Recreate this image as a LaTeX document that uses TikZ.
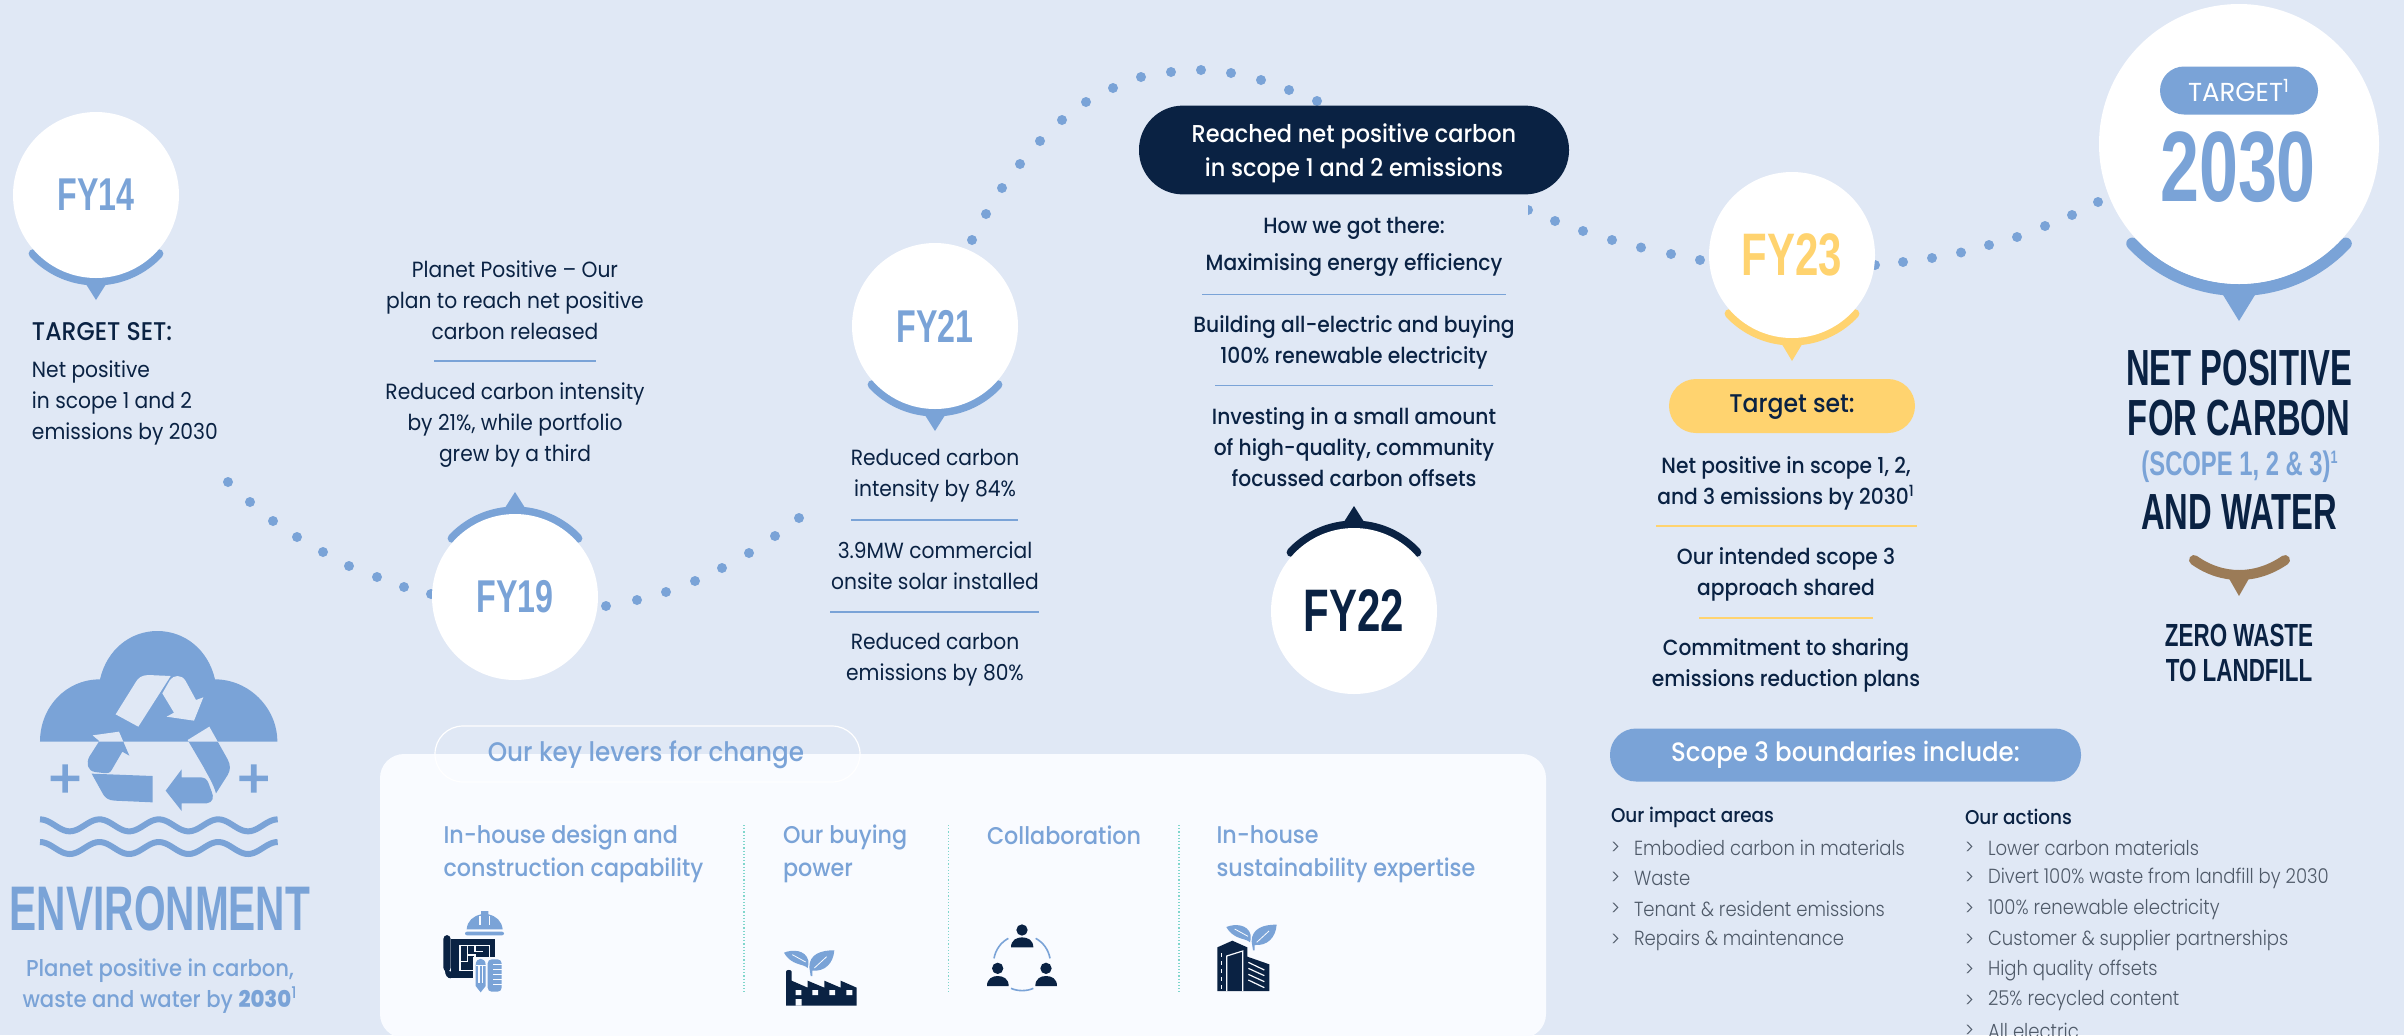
\documentclass[tikz,border=0pt]{standalone}
\usepackage{fontspec}
\setmainfont{Poppins}
\newfontfamily\bodyf[FakeStretch=.92]{Poppins}
\newfontfamily\medf[FakeStretch=.92]{Poppins Medium}
\newfontfamily\lightf[FakeStretch=.885]{Poppins Light}
\newfontfamily\condf[FakeStretch=.7]{Liberation Sans Bold}
\newfontfamily\condn[FakeStretch=.645]{Liberation Sans Bold}
\definecolor{bgc}{HTML}{E0E8F5}
\definecolor{bluec}{HTML}{7AA3D7}
\definecolor{darkc}{HTML}{0A2243}
\definecolor{yellowc}{HTML}{FFD36F}
\definecolor{brownc}{HTML}{9B7B57}
\definecolor{panelc}{HTML}{F9FBFF}
\definecolor{grayc}{HTML}{4F5A69}
\definecolor{tealc}{HTML}{7FD6CC}
\pgfdeclarelayer{base}
\pgfdeclarelayer{back}
\pgfsetlayers{base,back,main}
\newcommand\ringtip[8]{% cx cy R dir colour width tipdist halfwidth
  \draw[draw=#5,line width=#6,line cap=round] plot[domain=43:137,samples=40] ({#1+#3*cos(\x)},{#2+#4*#3*sin(\x)});
  \fill[#5] ({#1-#8},{#2+#4*#3}) -- ({#1},{#2+#4*#7}) -- ({#1+#8},{#2+#4*#3}) -- cycle;}
\newcommand\dotchain[5]{%
  \draw[dotline] foreach \px/\py [remember=\px as \qx (initially #1), remember=\py as \qy (initially #2)] in {#3} { (\qx,\qy) -- (\px,\py) };
  \draw[dotline] (#4) -- (#5);}
\newcommand\leafpair{%
  \fill[bluec] (27,38) .. controls (50,28) and (92,28) .. (100,62) .. controls (101,70) and (100,78) .. (98,84) .. controls (85,70) and (50,78) .. (27,38) -- cycle;
  \fill[bluec] (178,31) .. controls (140,30) and (102,42) .. (103,82) -- (107,108) -- (112,108) -- (112,92) .. controls (150,95) and (175,70) .. (178,31) -- cycle;
  \draw[panelc,line width=.4pt] (52,44) -- (92,66) (155,50) -- (118,84);}
\newcommand\recycle{%
  (347,343) -- (405,250) .. controls (415,232) and (425,226) .. (445,225) -- (512,228) -- (415,380) -- cycle
  (487,280) -- (510,240) .. controls (520,225) and (545,222) .. (557,243) -- (588,300) -- (610,292) -- (582,362) -- (500,350) -- (522,338) -- cycle
  (563,420) -- (628,380) -- (683,478) .. controls (692,495) and (692,510) .. (683,525) -- (648,580) .. controls (640,550) and (620,520) .. (610,500) -- cycle
  (545,508) -- (497,572) -- (545,633) -- (545,610) -- (620,610) .. controls (640,608) and (642,590) .. (635,575) -- (625,548) .. controls (620,536) and (612,532) .. (600,532) -- (545,532) -- cycle
  (275,521) -- (305,575) .. controls (315,595) and (325,601) .. (345,602) -- (458,607) -- (458,528) -- cycle
  (278,406) -- (357,395) -- (388,467) -- (367,455) -- (335,510) .. controls (330,520) and (322,520) .. (310,519) -- (285,516) .. controls (262,512) and (258,490) .. (268,470) -- (298,423) -- cycle}
\tikzset{
  x=.5pt,y=-.5pt,
  every node/.style={inner sep=0pt,outer sep=0pt},
  dotline/.style={draw=bluec,line width=5pt,line cap=round,dash pattern=on 0pt off 400pt},
  bubble/.style={circle,fill=white,minimum size=83pt},
  bigbubble/.style={circle,fill=white,minimum size=140pt},
  fyS/.style={text=bluec,font=\condf\fontsize{23}{26}\selectfont},
  fyL/.style={font=\condf\fontsize{30}{33}\selectfont},
  body/.style={align=center,text=darkc,font=\bodyf\fontsize{11}{15.4}\selectfont},
  medbody/.style={align=center,text=darkc,font=\medf\fontsize{11}{15.4}\selectfont},
  heading/.style={align=center,text=darkc,font=\condn\fontsize{25.4}{30}\selectfont},
  leverhead/.style={anchor=west,align=left,text=bluec,font=\medf\fontsize{12.1}{16.6}\selectfont},
  itemt/.style={anchor=west,text=grayc,font=\lightf\fontsize{10.2}{12}\selectfont},
  rulel/.style={line width=.6pt},
  divider/.style={draw=tealc,line width=.6pt,dash pattern=on .6pt off 1pt},
  iconw/.style={draw=panelc,line width=.6pt}
}
\begin{document}
\begin{tikzpicture}
\useasboundingbox (0,0) rectangle (2404,1035);
\begin{pgfonlayer}{base}
\fill[bgc] (0,0) rectangle (2404,1035);
\fill[panelc,rounded corners=12pt] (380,754) rectangle (1546,1038);
\end{pgfonlayer}

% rings behind the circles
\begin{pgfonlayer}{back}
\ringtip{96}{195}{86}{1}{bluec}{4.5pt}{105}{12}
\ringtip{515}{597}{86}{-1}{bluec}{4.5pt}{105}{12}
\ringtip{935}{326}{86}{1}{bluec}{4.5pt}{105}{12}
\ringtip{1354}{611}{86}{-1}{darkc}{4.5pt}{105}{12}
\ringtip{1792}{255}{86}{1}{yellowc}{4.5pt}{106}{12}
\ringtip{2239}{144}{146}{1}{bluec}{6pt}{177}{19}
\end{pgfonlayer}

% year circles
\node[bubble,fyS] (FY14) at (96,195) {FY14\hspace{2pt}};
\node[bubble,fyS] (FY19) at (515,597) {FY19\hspace{1pt}};
\node[bubble,fyS] (FY21) at (935,326) {FY21\hspace{3pt}};
\node[bubble,fyL,text=darkc] (FY22) at (1354,611) {FY22};
\node[bubble,fyL,text=yellowc] (FY23) at (1792,255) {FY23\hspace{1pt}};
\node[bigbubble] (T30) at (2239,144) {};
\node[fill=bluec,rounded corners=12pt,minimum width=79pt,minimum height=24pt,text=white,font=\rmfamily\fontsize{13}{14}\selectfont] (tpill) at (2239,90.5) {TARGET\textsuperscript{1}};
\node[text=bluec,font=\condf\fontsize{50}{54}\selectfont] (y30) at (2238,167) {2030};

% main pill
\node[fill=darkc,rounded corners=22pt,minimum width=215pt,minimum height=44.4pt] (pill22) at (1354,150) {};
\node[align=center,text=white,font=\medf\fontsize{12.2}{17.2}\selectfont] (pill22t) at (1354,153) {Reached net positive carbon\\in scope 1 and 2 emissions};

% dots
\begin{pgfonlayer}{back}
\dotchain{228}{482}{250/502,273/521,297/537,323/552,349/566,377/577,404/587,431/594}{431,594}{FY19}
\dotchain{799}{518}{775/536,749/553,722/568,695/581,666/592,637/600,606/606}{606,606}{FY19}
\dotchain{1317}{101}{1289/90,1261/80,1231/73,1201/70,1171/72,1141/77,1113/88,1086/102,1062/120,1040/141,1020/164,1002/188,986/214,972/240}{972,240}{FY21}
\dotchain{1528}{210}{1555/221,1583/231,1612/240,1641/247.5,1671/254,1700/260}{1700,260}{FY23}
\dotchain{2098}{202}{2072/215,2045/226,2017/237,1989/245,1961/252.5,1932/258,1903/262,1875/265}{1875,265}{FY23}
\fill[bgc] (1519,202) rectangle (1528,218);
\end{pgfonlayer}

% FY14 text
\node[anchor=west,text=darkc,font=\medf\fontsize{12.8}{14}\selectfont] (t14a) at (32,332) {TARGET SET:};
\node[body,anchor=west,align=left] (t14b) at (32,403) {Net positive\\in scope 1 and 2\\emissions by 2030};
% FY19 text
\node[body] (t19a) at (515,300) {Planet Positive – Our\\plan to reach net positive\\carbon released};
\draw[rulel,draw=bluec] (434,361) -- (596,361);
\node[body] (t19b) at (515,425) {Reduced carbon intensity\\by 21\%, while portfolio\\grew by a third};
% FY21 text
\node[body] (t21a) at (935,476) {Reduced carbon\\intensity by 84\%};
\draw[rulel,draw=bluec] (851,520) -- (1018,520);
\node[body] (t21b) at (935,566) {3.9MW commercial\\onsite solar installed};
\draw[rulel,draw=bluec] (830,612) -- (1039,612);
\node[body] (t21c) at (935,660) {Reduced carbon\\emissions by 80\%};
% FY22 text
\node[medbody] (t22a) at (1354,228) {How we got there:};
\node[medbody] (t22b) at (1354,265) {Maximising energy efficiency};
\draw[rulel,draw=bluec] (1202,294.6) -- (1506,294.6);
\node[medbody] (t22c) at (1354,342) {Building all-electric and buying\\100\% renewable electricity};
\draw[rulel,draw=bluec] (1215,385.6) -- (1493,385.6);
\node[medbody] (t22d) at (1354,447) {Investing in a small amount\\of high-quality, community\\focussed carbon offsets};
% FY23 text
\node[fill=yellowc,rounded corners=13.5pt,minimum width=123pt,minimum height=27pt] (p23) at (1792,406) {};
\node[text=darkc,font=\medf\fontsize{12.8}{14}\selectfont] (p23t) at (1792,407) {Target set:};
\node[medbody] (t23a) at (1786,483) {Net positive in scope 1, 2,\\and 3 emissions by 2030\textsuperscript{1}};
\draw[rulel,draw=yellowc] (1656,526) -- (1917,526);
\node[medbody] (t23b) at (1786,574) {Our intended scope 3\\approach shared};
\draw[rulel,draw=yellowc] (1699,618) -- (1873,618);
\node[medbody] (t23c) at (1786,665) {Commitment to sharing\\emissions reduction plans};
% right column
\node[heading] (h1) at (2239,368) {NET POSITIVE};
\node[heading] (h2) at (2239,418) {FOR CARBON};
\node[text=bluec,font=\condf\fontsize{17}{20}\selectfont] (h3) at (2240,467) {(SCOPE 1, 2 \& 3)\textsuperscript{\fontsize{9}{9}\selectfont 1}};
\node[heading] (h4) at (2239,512.5) {AND WATER};
\draw[brownc,line width=5pt,line cap=round] (2194,560) .. controls (2222,580) and (2256,580) .. (2285,560);
\fill[brownc] (2227,575) -- (2239,596) -- (2251,575) -- cycle;
\node[text=darkc,font=\condf\fontsize{16}{20}\selectfont] (z1) at (2239,635) {ZERO WASTE};
\node[text=darkc,font=\condf\fontsize{16}{20}\selectfont] (z2) at (2239,670.5) {TO LANDFILL};

% Environment emblem
\begin{scope}[shift={(0,600)},scale=.33333]
\fill[bluec] (120,425) .. controls (120,322) and (197,238) .. (300,238) .. controls (320,150) and (390,93) .. (472,93) .. controls (555,93) and (625,150) .. (645,238) .. controls (745,238) and (832,322) .. (832,425) -- cycle;
\fill[bluec] \recycle;
\begin{scope}
\clip (120,425) .. controls (120,322) and (197,238) .. (300,238) .. controls (320,150) and (390,93) .. (472,93) .. controls (555,93) and (625,150) .. (645,238) .. controls (745,238) and (832,322) .. (832,425) -- cycle;
\fill[bgc] \recycle;
\end{scope}
\fill[bluec] (152,527) rectangle (238,543) (187,493) rectangle (204,578);
\fill[bluec] (718,527) rectangle (804,543) (753,493) rectangle (770,578);
\foreach \w in {0,68}
  \draw[bluec,line width=3pt] plot[domain=120:833,samples=90] (\x,{676+\w-18*cos((\x-120)*2.0196)});
\end{scope}
\node[text=bluec,font=\condn\fontsize{31.5}{34}\selectfont] (env) at (160,908.5) {ENVIRONMENT};
\node[align=center,text=bluec,font=\medf\fontsize{11.5}{15.5}\selectfont] (envt) at (160,986) {Planet positive in carbon,\\waste and water by \textbf{2030}\textsuperscript{1}};

% levers panel
\node[draw=white,line width=.6pt,rounded corners=14pt,minimum width=212.5pt,minimum height=28pt] (lp) at (647.5,754) {};
\node[text=bluec,font=\medf\fontsize{13.4}{15}\selectfont] (lt) at (646,755) {Our key levers for change};
\node[leverhead] (l1) at (443.5,854) {In-house design and\\construction capability};
\node[leverhead] (l2) at (783,854) {Our buying\\power};
\node[leverhead] (l3) at (987,835) {Collaboration};
\node[leverhead] (l4) at (1216.5,854) {In-house\\sustainability expertise};
\foreach \d in {744,948.6,1179} \draw[divider] (\d,825) -- (\d,992);

% blueprint icon
\begin{scope}[shift={(430,900)},scale=.33333]
\fill[bluec] (110,88) .. controls (112,62) and (130,48) .. (153,43) -- (153,33) -- (175,33) -- (175,43) .. controls (198,48) and (215,62) .. (218,88) -- cycle;
\draw[iconw] (150,48) -- (150,75) (178,48) -- (178,75);
\fill[bluec,rounded corners=1pt] (105,95) rectangle (222,106);
\fill[darkc,rounded corners=2pt] (40,105) rectangle (62,215);
\fill[darkc] (62,117) rectangle (195,235);
\fill[darkc] (45,212) .. controls (45,225) and (52,235) .. (62,235) -- (70,215) -- cycle;
\draw[panelc,line width=.7pt] (90,137) rectangle (178,212) (135,137) -- (135,155) -- (160,155) (112,137) -- (112,165) (90,185) -- (112,185) -- (112,165) -- (135,165) -- (135,212) (160,175) -- (178,175);
\fill[panelc] (130,172) rectangle (222,282);
\fill[bluec,rounded corners=2pt] (173,178) rectangle (215,275);
\draw[iconw] (190,193) -- (215,193) (190,208) -- (215,208) (190,223) -- (215,223) (190,238) -- (215,238) (190,253) -- (215,253);
\fill[bluec] (137,195) .. controls (137,170) and (167,170) .. (167,195) -- (167,258) -- (152,277) -- (137,258) -- cycle;
\draw[iconw] (137,197) -- (167,197) (147,197) -- (147,250) (157,197) -- (157,250);
\end{scope}

% factory icon
\begin{scope}[shift={(775,940)},scale=.33333]
\leafpair
\fill[darkc] (33,197) -- (33,95) .. controls (33,88) and (50,88) .. (50,95) -- (50,122) -- (98,143) -- (98,122) -- (148,143) -- (148,122) -- (197,143) -- (197,122) -- (245,143) -- (245,197) -- cycle;
\fill[panelc] (62,150) rectangle (79,165) (112,150) rectangle (129,165) (163,150) rectangle (180,165) (214,150) rectangle (232,165) (62,177) rectangle (80,197);
\end{scope}

% people icon
\begin{scope}[shift={(975,915)},scale=.33333]
\fill[darkc] (141,45) circle[radius=17] (68,160) circle[radius=17] (213,160) circle[radius=17];
\fill[darkc] (108,97) .. controls (108,75) and (125,67) .. (141,67) .. controls (158,67) and (175,75) .. (175,97) -- cycle;
\fill[darkc] (36,213) .. controls (36,191) and (52,183) .. (68,183) .. controls (85,183) and (101,191) .. (101,213) -- cycle;
\fill[darkc] (181,213) .. controls (181,191) and (197,183) .. (213,183) .. controls (230,183) and (246,191) .. (246,213) -- cycle;
\draw[bluec,line width=.8pt] (100,70) .. controls (78,82) and (62,103) .. (57,130);
\draw[bluec,line width=.8pt] (182,70) .. controls (204,82) and (220,103) .. (225,130);
\draw[bluec,line width=.8pt] (108,220) .. controls (128,229) and (155,229) .. (175,220);
\end{scope}

% building icon
\begin{scope}[shift={(1205,915)},scale=.33333]
\begin{scope}[shift={(37,-2)}]\leafpair\end{scope}
\fill[darkc] (37,228) -- (37,97) -- (82,77) -- (127,97) -- (127,125) -- (193,148) -- (193,228) -- cycle;
\draw[iconw] (65,228) -- (65,123) -- (113,108) -- (113,228);
\draw[iconw,dash pattern=on 2pt off 2pt] (50,115) -- (50,225);
\draw[iconw] (130,142) -- (178,165) (130,160) -- (178,182) (130,178) -- (178,200) (130,195) -- (178,218);
\end{scope}

% scope 3
\node[fill=bluec,rounded corners=13pt,minimum width=235.5pt,minimum height=26.5pt,text=white,font=\medf\fontsize{13.3}{16}\selectfont] (s3) at (1845.5,755) {Scope 3 boundaries include:};
\node[anchor=west,text=darkc,font=\medf\fontsize{10}{12}\selectfont] (a1) at (1611,817) {Our impact areas};
\node[anchor=west,text=darkc,font=\medf\fontsize{10}{12}\selectfont] (a2) at (1965,817) {Our actions};
\foreach \yy/\t [count=\i] in {848/Embodied carbon in materials,878/Waste,909/Tenant \& resident emissions,940/Repairs \& maintenance} {
  \node[itemt] (im\i) at (1611,\yy) {>};
  \node[itemt] (it\i) at (1634,\yy) {\t};
}
\foreach \yy/\t [count=\i] in {848/Lower carbon materials,878/Divert 100\% waste from landfill by 2030,909/100\% renewable electricity,940/Customer \& supplier partnerships,970/High quality offsets,1001/25\% recycled content,1031/All electric} {
  \node[itemt] (am\i) at (1965,\yy) {>};
  \node[itemt] (at\i) at (1988,\yy) {\t};
}
\end{tikzpicture}
\end{document}
